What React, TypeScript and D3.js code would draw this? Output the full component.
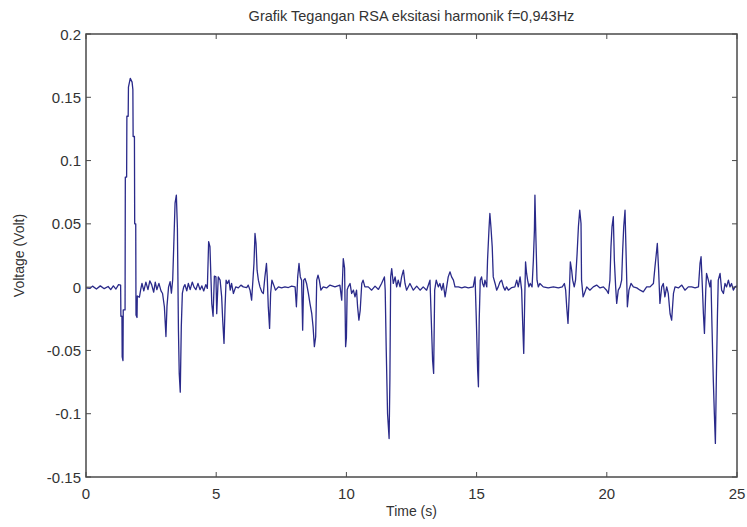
import React from "react";
import * as d3 from "d3";

const chartTitle = "Grafik Tegangan RSA eksitasi harmonik f=0,943Hz";
const xLabel = "Time (s)";
const yLabel = "Voltage (Volt)";
const xTicks = [0, 5, 10, 15, 20, 25];
const yTicks = [-0.15, -0.1, -0.05, 0, 0.05, 0.1, 0.15, 0.2];
const yTickLabels = ["-0.15", "-0.1", "-0.05", "0", "0.05", "0.1", "0.15", "0.2"];

// [time (s), voltage (V)]
const samples: [number, number][] = [
  [0, -0.0005], [0.15, -0.001], [0.25, 0.0008], [0.4, -0.0015], [0.55, 0.001], [0.7, -0.0012],
  [0.85, 0.0005], [0.95, -0.002], [1.05, 0.001], [1.15, -0.0015], [1.25, 0.002], [1.33, 0.0015],
  [1.34, -0.023], [1.38, -0.023], [1.39, -0.055], [1.42, -0.058], [1.43, -0.018], [1.5, -0.018],
  [1.51, 0.087], [1.56, 0.087], [1.57, 0.135], [1.62, 0.135], [1.63, 0.158], [1.7, 0.165],
  [1.77, 0.162], [1.8, 0.156], [1.81, 0.119], [1.86, 0.119], [1.87, 0.05], [1.91, 0.05],
  [1.92, -0.022], [1.96, -0.024], [1.97, -0.007], [2.05, -0.008], [2.1, -0.002], [2.15, 0.003],
  [2.22, -0.003], [2.3, 0.004], [2.38, -0.002], [2.45, 0.005], [2.52, 0.002], [2.6, -0.004],
  [2.66, 0.004], [2.72, -0.002], [2.8, 0.003], [2.88, -0.003], [2.94, -0.005], [3.01, -0.0155],
  [3.07, -0.039], [3.11, -0.015], [3.17, 0.0], [3.23, 0.0043], [3.28, -0.0047], [3.33, 0.006],
  [3.38, 0.0395], [3.42, 0.0663], [3.47, 0.0727], [3.51, 0.047], [3.55, -0.034], [3.58, -0.068],
  [3.62, -0.083], [3.66, -0.031], [3.7, -0.005], [3.75, 0.0], [3.8, 0.002], [3.87, -0.003],
  [3.93, 0.003], [4.0, -0.002], [4.08, 0.004], [4.15, 0.0], [4.22, -0.002], [4.3, 0.003],
  [4.38, -0.002], [4.45, 0.001], [4.52, -0.003], [4.6, 0.002], [4.66, -0.001], [4.71, 0.036],
  [4.76, 0.032], [4.8, 0.006], [4.83, -0.013], [4.88, -0.023], [4.93, 0.0087], [4.99, 0.0081],
  [5.02, -0.021], [5.08, 0.0081], [5.15, 0.0055], [5.21, -0.0077], [5.25, -0.0261], [5.3, -0.0445],
  [5.34, -0.0155], [5.38, 0.0055], [5.43, 0.0029], [5.49, 0.0055], [5.54, -0.0024], [5.59, 0.0029],
  [5.66, -0.005], [5.75, 0.0002], [5.85, -0.0006], [5.95, 0.0016], [6.04, 0.0002], [6.17, -0.0003],
  [6.23, 0.0016], [6.3, -0.0024], [6.36, -0.0103], [6.41, 0.0055], [6.45, 0.0187], [6.49, 0.0424],
  [6.53, 0.0345], [6.57, 0.0134], [6.62, 0.0055], [6.68, 0.0002], [6.75, -0.0037], [6.81, -0.005],
  [6.87, 0.0081], [6.93, 0.0187], [6.96, 0.0081], [7.0, -0.0155], [7.05, -0.0326], [7.09, -0.005],
  [7.14, 0.0055], [7.21, 0.0016], [7.28, -0.0024], [7.39, 0.0002], [7.51, -0.0006], [7.64, 0.0002],
  [7.77, -0.0003], [7.9, 0.0008], [8.03, 0.0002], [8.08, -0.0155], [8.13, 0.0081], [8.18, 0.0187],
  [8.23, 0.0081], [8.28, 0.0055], [8.32, -0.034], [8.36, 0.0055], [8.41, 0.0068], [8.47, 0.0029],
  [8.54, -0.005], [8.6, -0.0129], [8.67, -0.021], [8.72, -0.0313], [8.77, -0.047], [8.82, -0.0392],
  [8.86, 0.0055], [8.91, 0.0094], [8.96, 0.0055], [9.02, -0.0024], [9.11, 0.0002], [9.24, -0.0006],
  [9.37, 0.0016], [9.56, 0.0002], [9.75, 0.0016], [9.82, -0.0103], [9.88, 0.0226], [9.93, 0.015],
  [9.97, -0.047], [10.0, -0.04], [10.03, -0.002], [10.07, 0.0002], [10.14, 0.0029], [10.2, -0.005],
  [10.27, -0.0024], [10.33, -0.0077], [10.39, -0.0024], [10.43, -0.0155], [10.48, -0.0261],
  [10.53, -0.0183], [10.59, 0.0029], [10.64, 0.0055], [10.71, 0.0002], [10.84, 0.0002],
  [10.97, -0.0024], [11.1, 0.0008], [11.23, -0.0018], [11.35, 0.0029], [11.46, 0.0081],
  [11.49, -0.0024], [11.53, -0.0497], [11.58, -0.0998], [11.64, -0.1196], [11.67, -0.0734],
  [11.7, 0.0081], [11.74, 0.0147], [11.8, 0.0029], [11.87, 0.0081], [11.93, 0.0002], [11.99, 0.0055],
  [12.06, 0.0002], [12.12, 0.0081], [12.19, 0.0134], [12.25, 0.0029], [12.31, -0.0024],
  [12.44, 0.0029], [12.57, -0.0024], [12.7, 0.0008], [12.83, -0.0024], [12.95, 0.0002],
  [13.08, -0.0024], [13.21, 0.0055], [13.26, -0.0261], [13.31, -0.0577], [13.35, -0.0682],
  [13.39, -0.0024], [13.45, 0.0055], [13.53, 0.0002], [13.59, 0.0029], [13.66, -0.0024],
  [13.72, 0.0029], [13.79, -0.0077], [13.85, 0.0002], [13.91, 0.0081], [13.98, 0.0121],
  [14.04, 0.0081], [14.11, 0.0055], [14.17, 0.0002], [14.3, 0.0002], [14.43, -0.0006],
  [14.55, 0.0002], [14.68, -0.0006], [14.87, 0.0002], [14.94, 0.0081], [14.99, -0.0261],
  [15.04, -0.0656], [15.07, -0.0787], [15.1, -0.0261], [15.14, 0.0055], [15.19, 0.0081],
  [15.23, 0.0029], [15.28, 0.0002], [15.32, 0.0055], [15.39, 0.0002], [15.42, 0.0213],
  [15.48, 0.0477], [15.51, 0.0582], [15.55, 0.0477], [15.6, 0.0318], [15.64, 0.0081],
  [15.71, 0.0029], [15.77, -0.0024], [15.83, 0.0002], [15.9, 0.0042], [15.96, 0.0055],
  [16.03, 0.0002], [16.09, -0.0024], [16.15, 0.0002], [16.22, -0.0024], [16.35, -0.0003],
  [16.47, 0.0002], [16.54, 0.0055], [16.6, 0.0002], [16.67, 0.0081], [16.73, -0.0024],
  [16.77, -0.0287], [16.81, -0.0524], [16.85, -0.0077], [16.88, 0.02], [16.92, 0.0108],
  [16.96, 0.0055], [17.01, 0.0002], [17.06, 0.0029], [17.13, 0.0002], [17.18, 0.0213],
  [17.22, 0.045], [17.24, 0.0727], [17.28, 0.0371], [17.32, 0.0055], [17.37, 0.0002],
  [17.43, 0.0029], [17.56, 0.0002], [17.75, -0.0006], [17.95, 0.0002], [18.14, -0.0006],
  [18.29, 0.0002], [18.37, 0.0029], [18.42, -0.0024], [18.46, -0.0155], [18.51, -0.0287],
  [18.56, -0.005], [18.6, 0.02], [18.65, 0.0134], [18.69, 0.0055], [18.75, 0.0002], [18.8, 0.0055],
  [18.86, 0.0266], [18.91, 0.0477], [18.96, 0.0608], [19.01, 0.0503], [19.03, 0.0055],
  [19.09, -0.0077], [19.14, -0.005], [19.23, 0.0002], [19.35, -0.0024], [19.48, 0.0002],
  [19.61, 0.0016], [19.74, -0.0006], [19.87, 0.0002], [19.99, -0.0024], [20.06, -0.005],
  [20.12, 0.0055], [20.16, 0.0318], [20.2, 0.0477], [20.25, 0.0556], [20.29, 0.0213],
  [20.34, 0.0002], [20.38, -0.0129], [20.44, -0.0024], [20.51, 0.0002], [20.57, 0.0055],
  [20.61, 0.0292], [20.65, 0.0477], [20.7, 0.0608], [20.75, 0.0187], [20.79, -0.0155],
  [20.85, -0.0024], [20.93, 0.0029], [21.02, 0.0002], [21.15, -0.0006], [21.28, -0.0024],
  [21.4, -0.0037], [21.53, 0.0002], [21.66, 0.0002], [21.79, 0.0029], [21.85, 0.016],
  [21.89, 0.024], [21.94, 0.0345], [21.99, 0.0134], [22.04, -0.0129], [22.11, 0.0002],
  [22.17, 0.0029], [22.23, -0.0077], [22.3, 0.0002], [22.36, -0.005], [22.43, -0.021],
  [22.49, -0.0261], [22.56, -0.005], [22.62, 0.0002], [22.75, -0.0006], [22.88, 0.0016],
  [23.0, -0.0024], [23.13, 0.0002], [23.26, 0.0002], [23.39, -0.0006], [23.52, 0.0002],
  [23.58, 0.0187], [23.62, 0.024], [23.67, 0.0002], [23.71, -0.021], [23.75, -0.0366],
  [23.8, -0.0024], [23.83, 0.0108], [23.9, 0.0055], [23.96, 0.0002], [24.0, 0.0055],
  [24.04, -0.0313], [24.09, -0.0734], [24.13, -0.0998], [24.17, -0.1235], [24.21, -0.0682],
  [24.25, -0.021], [24.28, 0.0055], [24.35, 0.0108], [24.41, -0.0024], [24.48, -0.005],
  [24.54, 0.0029], [24.6, 0.0002], [24.67, 0.0055], [24.73, 0.0002], [24.79, 0.0029],
  [24.86, -0.0024], [24.92, 0.0002], [25, 0.001],
];

const W = 747;
const H = 527;
const M = { left: 86, right: 737, top: 34, bottom: 477 };
const FONT = "'Liberation Sans', Arial, Helvetica, sans-serif";

export default function App() {
  const x = d3.scaleLinear().domain([0, 25]).range([M.left, M.right]);
  const y = d3.scaleLinear().domain([-0.15, 0.2]).range([M.bottom, M.top]);
  const line = d3
    .line<[number, number]>()
    .x((d) => x(d[0]))
    .y((d) => y(d[1]));
  const tickLen = 5;
  const axisColor = "#4a4a4a";
  const textColor = "#333";

  return (
    <svg
      width={W}
      height={H}
      style={{ position: "absolute", left: 0, top: 0, background: "#fff" }}
      fontFamily={FONT}
    >
      <rect x={0} y={0} width={W} height={H} fill="#fff" />
      <text x={(M.left + M.right) / 2} y={21} textAnchor="middle" fontSize={14.5} fill={textColor}>
        {chartTitle}
      </text>
      <path d={line(samples) || ""} fill="none" stroke="#2a2a8a" strokeWidth={1.3} strokeLinejoin="round" />
      {xTicks.map((t) => (
        <g key={"x" + t}>
          <line x1={x(t)} x2={x(t)} y1={M.bottom} y2={M.bottom - tickLen} stroke={axisColor} />
          <line x1={x(t)} x2={x(t)} y1={M.top} y2={M.top + tickLen} stroke={axisColor} />
          <text x={x(t)} y={499} textAnchor="middle" fontSize={15} fill={textColor}>
            {t}
          </text>
        </g>
      ))}
      {yTicks.map((v, i) => (
        <g key={"y" + i}>
          <line x1={M.left} x2={M.left + tickLen} y1={y(v)} y2={y(v)} stroke={axisColor} />
          <line x1={M.right} x2={M.right - tickLen} y1={y(v)} y2={y(v)} stroke={axisColor} />
          <text x={81} y={y(v) + 5.5} textAnchor="end" fontSize={15} fill={textColor}>
            {yTickLabels[i]}
          </text>
        </g>
      ))}
      <rect
        x={M.left}
        y={M.top}
        width={M.right - M.left}
        height={M.bottom - M.top}
        fill="none"
        stroke={axisColor}
        strokeWidth={1.5}
      />
      <text x={(M.left + M.right) / 2} y={516} textAnchor="middle" fontSize={14} fill={textColor}>
        {xLabel}
      </text>
      <text
        transform={`translate(24, ${(M.top + M.bottom) / 2}) rotate(-90)`}
        textAnchor="middle"
        fontSize={14}
        fill={textColor}
      >
        {yLabel}
      </text>
    </svg>
  );
}
